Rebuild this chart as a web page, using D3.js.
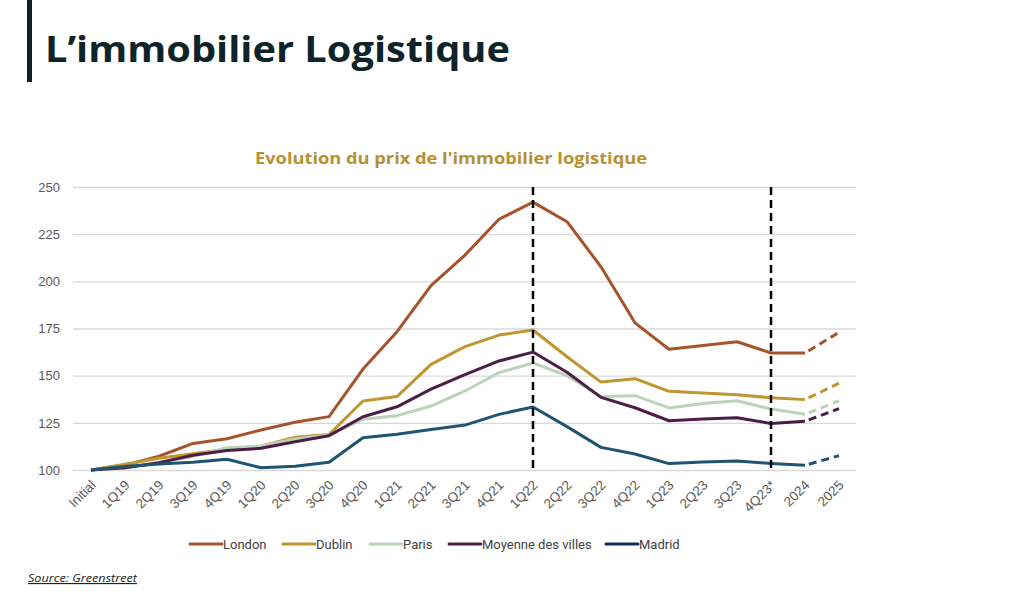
<!DOCTYPE html>
<html><head><meta charset="utf-8">
<script src="https://cdn.jsdelivr.net/npm/d3@7"></script>
<style>body{margin:0;background:#fff;} svg{display:block;}</style>
</head><body>
<svg id="c" width="1024" height="606"></svg>
<script>
const categories = ["Initial","1Q19","2Q19","3Q19","4Q19","1Q20","2Q20","3Q20","4Q20","1Q21","2Q21","3Q21","4Q21","1Q22","2Q22","3Q22","4Q22","1Q23","2Q23","3Q23","4Q23*","2024","2025"];
const seriesNames = ["London","Dublin","Paris","Moyenne des villes","Madrid"];
const london  = [100,102.6,107.3,114.1,116.6,121.2,125.3,128.3,153.5,173.3,197.7,213.9,232.9,242,231.6,207.7,178,164,166,168,162,162,173];
const dublin  = [100,103,106.2,108.6,111,112.6,117.4,118.8,136.6,138.9,156,165.4,171.5,174.2,160,146.6,148.4,141.7,140.8,139.9,138.3,137.3,146];
const paris   = [100,101,104,107.2,111.8,112.7,116.5,118.5,126.9,128.8,133.9,141.9,151.6,156.7,150,138.9,139.4,132.9,135.3,136.7,132.3,129.5,136.7];
const moyenne = [100,101.2,103.9,107.8,110.3,111.5,115,118.2,128.2,133.5,142.9,150.5,157.8,162.5,151.8,138.5,133,126.1,127,127.7,124.7,125.8,132.5];
const madrid  = [100,101.8,103.2,104.1,105.7,101.2,102,104.1,117.1,118.9,121.5,123.8,129.5,133.4,123,112,108.5,103.4,104.2,104.8,103.5,102.5,107.6];
const yTicks = [100,125,150,175,200,225,250];
const markerCategories = ["1Q22","4Q23*"];
const forecastStart = "2024";

const lineColors = ["#A5532B","#BF962F","#BCD2BA","#4D1C47","#1F5572"];
const legendColors = ["#A5532B","#BF962F","#BCD2BA","#4D1C47","#0E2A5F"];
const seriesData = [london, dublin, paris, moyenne, madrid];

const svg = d3.select("#c");
// header
svg.append("rect").attr("x",27).attr("y",0).attr("width",5).attr("height",82).attr("fill","#0F232A");
svg.append("text").attr("x",45).attr("y",62).text("L’immobilier Logistique")
  .attr("font-family","Open Sans, sans-serif").attr("font-weight",700).attr("font-size",35)
  .attr("fill","#0F232A").attr("textLength",465).attr("lengthAdjust","spacingAndGlyphs");

svg.append("text").attr("x",451).attr("y",164).attr("text-anchor","middle")
  .text("Evolution du prix de l'immobilier logistique")
  .attr("font-family","Open Sans, sans-serif").attr("font-weight",700).attr("font-size",16)
  .attr("fill","#B8902F").attr("textLength",392).attr("lengthAdjust","spacingAndGlyphs");

const x = d3.scalePoint().domain(categories).range([91, 839]);
const y = d3.scaleLinear().domain([100,250]).range([470,187]);

// gridlines
const yAxis = d3.axisLeft(y).tickValues(yTicks).tickSize(-(856-73)).tickPadding(13);
const gy = svg.append("g").attr("transform","translate(73,0)").call(yAxis);
gy.select(".domain").remove();
gy.selectAll(".tick line").attr("stroke","#D9D9D9").attr("stroke-width",1.3);
gy.selectAll(".tick text").attr("font-family","Liberation Sans, Arial, sans-serif").attr("font-size",13).attr("fill","#595959");

// x axis
const xAxis = d3.axisBottom(x).tickSize(0).tickPadding(0);
const gx = svg.append("g").attr("transform","translate(0,470)").call(xAxis);
gx.select(".domain").remove();
gx.selectAll(".tick text").attr("font-family","Liberation Sans, Arial, sans-serif").attr("font-size",13.5).attr("fill","#595959")
  .attr("text-anchor","end").attr("dy",0).attr("transform","translate(5,16) rotate(-45)");

const fi = categories.indexOf(forecastStart);
const line = d3.line().x(d=>x(d.c)).y(d=>y(d.v));
seriesData.forEach((arr,i)=>{
  const pts = arr.map((v,j)=>({c:categories[j],v}));
  svg.append("path").attr("d",line(pts.slice(0,fi+1))).attr("fill","none")
    .attr("stroke",lineColors[i]).attr("stroke-width",3).attr("stroke-linejoin","round");
  svg.append("path").attr("d",line(pts.slice(fi))).attr("fill","none")
    .attr("stroke",lineColors[i]).attr("stroke-width",3).attr("stroke-dasharray","0,4,8,5,8,5,8,5");
});

// marker lines
svg.selectAll(".vmark").data(markerCategories).enter().append("line")
  .attr("x1",d=>x(d)).attr("x2",d=>x(d)).attr("y1",y(250)).attr("y2",y(100)+3)
  .attr("stroke","#000").attr("stroke-width",2.5).attr("stroke-dasharray","8,5");

// legend
const legX = [190,283,370,449,606];
const lg = svg.append("g");
seriesNames.forEach((n,i)=>{
  lg.append("line").attr("x1",legX[i]).attr("x2",legX[i]+32).attr("y1",544).attr("y2",544)
    .attr("stroke",legendColors[i]).attr("stroke-width",3).attr("stroke-linecap","round");
  lg.append("text").attr("x",legX[i]+33).attr("y",549).text(n)
    .attr("font-family","Roboto, sans-serif").attr("font-size",13).attr("fill","#404040");
});

svg.append("text").attr("x",28).attr("y",582).text("Source: Greenstreet")
  .attr("font-family","Open Sans, sans-serif").attr("font-style","italic").attr("font-size",11.5)
  .attr("fill","#222").attr("text-decoration","underline")
  .attr("textLength",109).attr("lengthAdjust","spacingAndGlyphs");
</script>
</body></html>
